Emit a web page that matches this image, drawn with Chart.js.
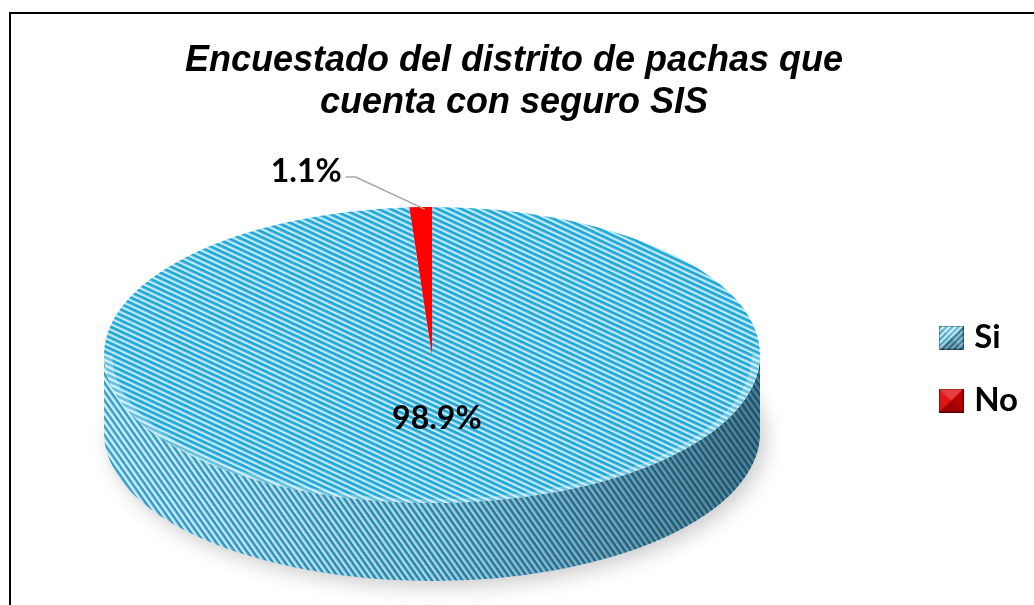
<!DOCTYPE html>
<html>
<head>
<meta charset="utf-8">
<script src="https://cdn.jsdelivr.net/npm/chart.js@4.4.0/dist/chart.umd.min.js"></script>
<style>
html, body { margin: 0; padding: 0; background: #fff; }
#contenedor { position: relative; width: 1034px; height: 605px; overflow: hidden; }
#marco { position: absolute; left: 9px; top: 12px; width: 1100px; height: 700px; border-top: 2px solid #000; border-left: 2px solid #000; }
</style>
</head>
<body>
<div id="contenedor">
  <canvas id="grafico" width="1034" height="605"></canvas>
  <div id="marco"></div>
</div>
<script>
// datos
var categorias = ["Si", "No"];
var porcentajes = [98.9, 1.1];
var etiquetas = ["98.9%", "1.1%"];
var titulo = ["Encuestado del distrito de pachas que", "cuenta con seguro SIS"];

// geometria de la torta en pantalla
var centroX = 432, centroY = 355, radioX = 328, radioY = 148, grosor = 78;

var canvas = document.getElementById("grafico");
var ctx = canvas.getContext("2d");

function hacerRayas(c1, c2, periodo) {
    var t = document.createElement("canvas");
    t.width = 4; t.height = periodo;
    var g = t.getContext("2d");
    g.fillStyle = c2; g.fillRect(0, 0, 4, periodo);
    g.fillStyle = c1; g.fillRect(0, 0, 4, periodo / 2);
    return ctx.createPattern(t, "repeat");
}

// cuadrito de leyenda con relieve
function hacerCuadro(base, rayado) {
    var t = document.createElement("canvas");
    t.width = 25; t.height = 24;
    var g = t.getContext("2d");
    g.fillStyle = base;
    g.fillRect(0, 0, 25, 24);
    if (rayado) {
        g.save();
        g.beginPath(); g.rect(0, 0, 25, 24); g.clip();
        g.strokeStyle = "#d9eef6";
        g.lineWidth = 2.2;
        for (var k = -30; k < 60; k += 6) {
            g.beginPath(); g.moveTo(k, 24); g.lineTo(k + 24, 0); g.stroke();
        }
        g.restore();
    }
    var caras = [
        [[0, 0], [25, 0], [12.5, 12], "rgba(255,255,255,0.25)"],
        [[0, 0], [0, 24], [12.5, 12], "rgba(255,255,255,0.08)"],
        [[25, 0], [25, 24], [12.5, 12], "rgba(0,0,0,0.18)"],
        [[0, 24], [25, 24], [12.5, 12], "rgba(0,0,0,0.3)"]
    ];
    caras.forEach(function(c) {
        g.beginPath(); g.moveTo(c[0][0], c[0][1]); g.lineTo(c[1][0], c[1][1]); g.lineTo(c[2][0], c[2][1]); g.closePath();
        g.fillStyle = c[3]; g.fill();
    });
    g.strokeStyle = "rgba(0,0,0,0.45)";
    g.lineWidth = 1;
    g.strokeRect(0.5, 0.5, 24, 23);
    return t;
}

var rayaSi = hacerRayas("#22a6d6", "#c4ecf8", 5.5);
var rayaLadoSi = hacerRayas("#1b94c2", "#cdeef8", 5);

var colores = [rayaSi, "#ff0000"];
var coloresLado = [rayaLadoSi, "#b00000"];
var cuadrosLeyenda = [hacerCuadro("#1f9ccc", true), hacerCuadro("#e00000", false)];

var torta3d = {
    id: "torta3d",
    beforeDatasetsDraw: function(chart) {
        var arcos = chart.getDatasetMeta(0).data;
        if (!arcos.length) return;
        var c = chart.ctx;
        var x = arcos[0].x, y = arcos[0].y, r = arcos[0].outerRadius;
        var sx = radioX / r, sy = radioY / r;
        rayaSi.setTransform(new DOMMatrix().scale(1 / sx, 1 / sy).rotate(25));
        rayaLadoSi.setTransform(new DOMMatrix().scale(1 / sx, 1 / sy).rotate(55));

        // sombra
        c.save();
        c.filter = "blur(10px)";
        c.fillStyle = "rgba(0,0,0,0.2)";
        c.beginPath();
        c.ellipse(centroX + 6, centroY + grosor + 6, radioX, radioY, 0, 0, Math.PI * 2);
        c.fill();
        c.restore();

        c.save();
        c.translate(centroX, centroY);
        c.scale(sx, sy);
        c.translate(-x, -y);
        var d = grosor / sy;

        arcos.forEach(function(a, i) {
            var a0 = a.startAngle, a1 = a.endAngle;
            for (var k = -1; k <= 1; k++) {
                var s = Math.max(a0, 2 * Math.PI * k), e = Math.min(a1, Math.PI + 2 * Math.PI * k);
                if (e <= s) continue;
                s -= 2 * Math.PI * k; e -= 2 * Math.PI * k;
                c.beginPath();
                c.arc(x, y, r, s, e);
                c.lineTo(x + r * Math.cos(e), y + r * Math.sin(e) + d);
                c.arc(x, y + d, r, e, s, true);
                c.closePath();
                c.fillStyle = coloresLado[i];
                c.fill();
                var gr = c.createLinearGradient(x - r, 0, x + r, 0);
                gr.addColorStop(0, "rgba(255,255,255,0.1)");
                gr.addColorStop(0.5, "rgba(0,20,40,0.12)");
                gr.addColorStop(1, "rgba(0,30,50,0.55)");
                c.fillStyle = gr;
                c.fill();
            }
        });
    },
    afterDatasetsDraw: function(chart) {
        var arcos = chart.getDatasetMeta(0).data;
        if (!arcos.length) return;
        var c = chart.ctx;
        var x = arcos[0].x, y = arcos[0].y, r = arcos[0].outerRadius;
        // brillo del borde
        c.beginPath();
        c.arc(x, y, r - 3, 0, Math.PI);
        c.strokeStyle = "rgba(255,255,255,0.3)";
        c.lineWidth = 6;
        c.stroke();
        c.restore();

        function punto(ang, f) {
            return [centroX + radioX * f * Math.cos(ang), centroY + radioY * f * Math.sin(ang)];
        }
        c.save();
        c.fillStyle = "#000";
        c.font = "bold 32px Lato";
        c.textBaseline = "middle";
        arcos.forEach(function(a, i) {
            var medio = (a.startAngle + a.endAngle) / 2;
            if (porcentajes[i] > 10) {
                var p = punto(medio, 0.43);
                c.textAlign = "center";
                c.fillText(etiquetas[i], p[0], p[1]);
            } else {
                var borde = punto(medio, 1);
                var codo = [borde[0] - 65, borde[1] - 30];
                var fin = [codo[0] - 10, codo[1]];
                c.beginPath();
                c.moveTo(borde[0] + 4, borde[1] + 2);
                c.lineTo(codo[0], codo[1]);
                c.lineTo(fin[0], fin[1]);
                c.strokeStyle = "#a6a6a6";
                c.lineWidth = 1.5;
                c.stroke();
                c.textAlign = "right";
                c.fillText(etiquetas[i], fin[0] - 4, fin[1] - 5);
            }
        });
        c.restore();
    }
};

new Chart(ctx, {
    type: "pie",
    data: {
        labels: categorias,
        datasets: [{
            data: porcentajes,
            backgroundColor: colores,
            borderWidth: 0,
            clip: false
        }]
    },
    options: {
        responsive: false,
        animation: false,
        devicePixelRatio: 1,
        layout: { padding: { right: 6 } },
        plugins: {
            title: {
                display: true,
                text: titulo,
                color: "#000",
                font: { family: "'Liberation Sans', Arial", size: 36, style: "italic", weight: "bold", lineHeight: 1.17 },
                padding: { top: 40, bottom: 9 }
            },
            legend: {
                position: "right",
                fullSize: false,
                labels: {
                    usePointStyle: true,
                    pointStyleWidth: 13,
                    boxHeight: 24,
                    padding: 30,
                    color: "#000",
                    font: { family: "Lato", size: 33, weight: "bold" },
                    generateLabels: function(chart) {
                        return categorias.map(function(cat, i) {
                            return { text: cat, fillStyle: "#000", pointStyle: cuadrosLeyenda[i], strokeStyle: "#555", lineWidth: 0, hidden: false, index: i, datasetIndex: 0 };
                        });
                    }
                }
            },
            tooltip: { enabled: false }
        }
    },
    plugins: [torta3d]
});
</script>
</body>
</html>
